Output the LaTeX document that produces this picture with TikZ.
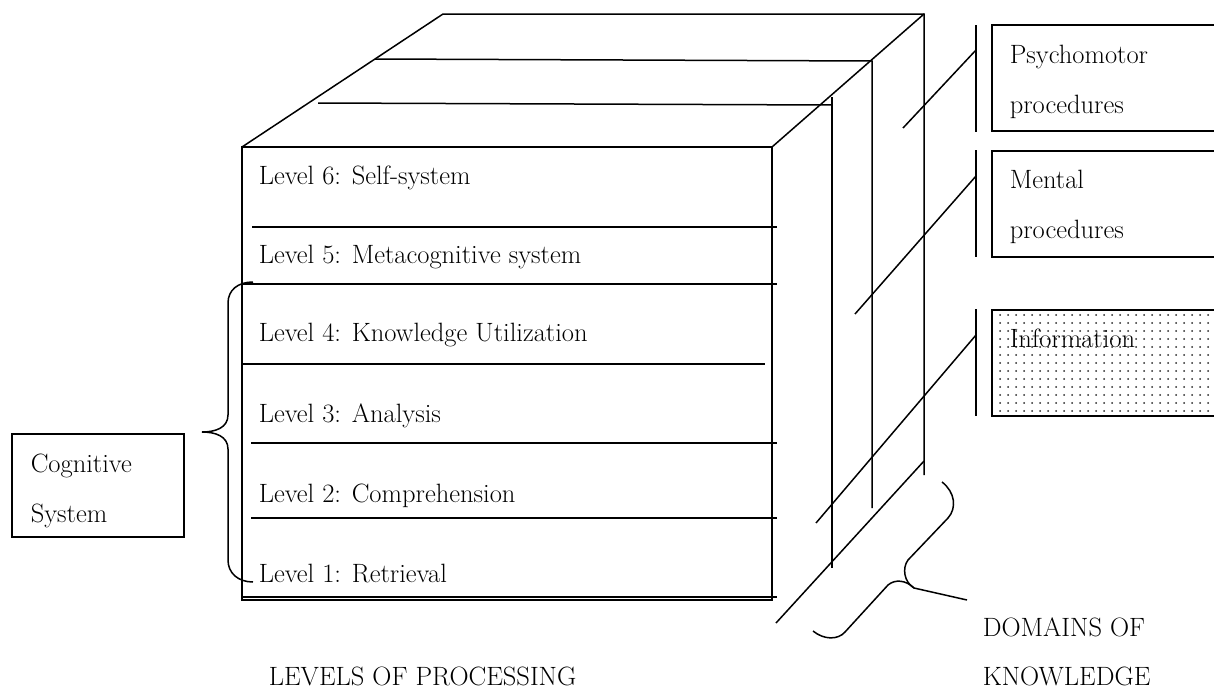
\documentclass[tikz,border=0pt]{standalone}
\usetikzlibrary{patterns.meta}
\begin{document}
\begin{tikzpicture}[x=1pt,y=-1pt,line width=1.5pt]
\tikzset{
  lbl/.style={anchor=base west,inner sep=0pt,font=\fontsize{26.5}{30}\selectfont},
  ln/.style={line width=1.5pt},
  dombox/.style={draw,line width=1.5pt},
  dotfill/.style={pattern={Dots[distance=8pt,radius=1pt]},pattern color=black!85}
}
\useasboundingbox (0,0) rectangle (1214,691);
% cube corners
\coordinate (FTL) at (242,147);
\coordinate (FTR) at (772,147);
\coordinate (FBR) at (772,600);
\coordinate (BTL) at (443,14);
\coordinate (BTR) at (924,14);
\coordinate (BBR) at (924,475);
\coordinate (M2L) at (375,59);
\coordinate (M2R) at (872,61);
\coordinate (M2B) at (872,508);
\coordinate (M3L) at (318,103);
\coordinate (M3R) at (832,105);
\coordinate (M3T) at (832,97);
\coordinate (M3B) at (832,568);
% cube
\draw[ln] (FTL) rectangle (FBR);
\draw[ln] (FTL) -- (BTL) -- (BTR) -- (BBR);
\draw[ln] (FTR) -- (BTR);
\draw[ln] (M2L) -- (M2R) -- (M2B);
\draw[ln] (M3L) -- (M3R);
\draw[ln] (M3T) -- (M3B);
% level separators
\draw[ln] (252,227) -- (777,227);
\draw[ln] (242,284) -- (777,284);
\draw[ln] (242,364) -- (765,364);
\draw[ln] (251,443) -- (777,443);
\draw[ln] (251,518) -- (777,518);
\draw[ln] (242,597) -- (777,597);
% level labels
\node[lbl] (l6) at (258,184) {Level 6: Self-system};
\node[lbl] (l5) at (258,263) {Level 5: Metacognitive system};
\node[lbl] (l4) at (258,341) {Level 4: Knowledge Utilization};
\node[lbl] (l3) at (258,422) {Level 3: Analysis};
\node[lbl] (l2) at (258,502) {Level 2: Comprehension};
\node[lbl] (l1) at (258,582) {Level 1: Retrieval};
\node[lbl] (lop) at (268,685) {LEVELS OF PROCESSING};
% cognitive system
\draw[dombox] (12,434) rectangle (184,537);
\node[lbl] (cog) at (30,472) {Cognitive};
\node[lbl] (sys) at (30,522) {System};
\draw[ln] (253,282) .. controls (238,282) and (228,290) .. (228,303) -- (228,415)
  .. controls (228,428) and (215,432) .. (202,432)
  .. controls (215,432) and (228,436) .. (228,449) -- (228,560)
  .. controls (228,573) and (238,582) .. (253,582);
% domain bars and boxes
\coordinate (b1t) at (976,25); \coordinate (b1b) at (976,132);
\coordinate (b2t) at (976,150); \coordinate (b2b) at (976,257);
\coordinate (b3t) at (976,309); \coordinate (b3b) at (976,416);
\draw[ln] (b1t) -- (b1b);
\draw[ln] (b2t) -- (b2b);
\draw[ln] (b3t) -- (b3b);
\coordinate (p1) at (976,50); \coordinate (q1) at (903,128);
\coordinate (p2) at (976,176); \coordinate (q2) at (855,314);
\coordinate (p3) at (976,335); \coordinate (q3) at (816,523);
\coordinate (p4) at (924,461); \coordinate (q4) at (776,623);
\draw[ln] (p1) -- (q1);
\draw[ln] (p2) -- (q2);
\draw[ln] (p3) -- (q3);
\draw[ln] (p4) -- (q4);
\draw[dombox] (992,25) rectangle (1232,131);
\draw[dombox] (992,151) rectangle (1232,257);
\path[dotfill] (992,310) rectangle (1232,416);
\draw[dombox] (992,310) rectangle (1232,416);
\node[lbl] (psy) at (1009,63) {Psychomotor};
\node[lbl] (pp1) at (1009,113) {procedures};
\node[lbl] (men) at (1009,188) {Mental};
\node[lbl] (pp2) at (1009,238) {procedures};
\node[lbl] (inf) at (1009,347) {Information};
% domains brace
\coordinate (tip) at (914,588);
\draw[ln] (942,482) .. controls (955,492) and (957,508) .. (948,518) -- (908,560)
  .. controls (902,568) and (904,582) .. (tip);
\draw[ln] (tip) .. controls (906,580) and (895,579) .. (888,585) -- (845,632)
  .. controls (838,640) and (824,640) .. (813,631);
\draw[ln] (tip) -- (967,600);
\node[lbl] (dom) at (982,636) {DOMAINS OF};
\node[lbl] (kno) at (982,685) {KNOWLEDGE};
\end{tikzpicture}
\end{document}
